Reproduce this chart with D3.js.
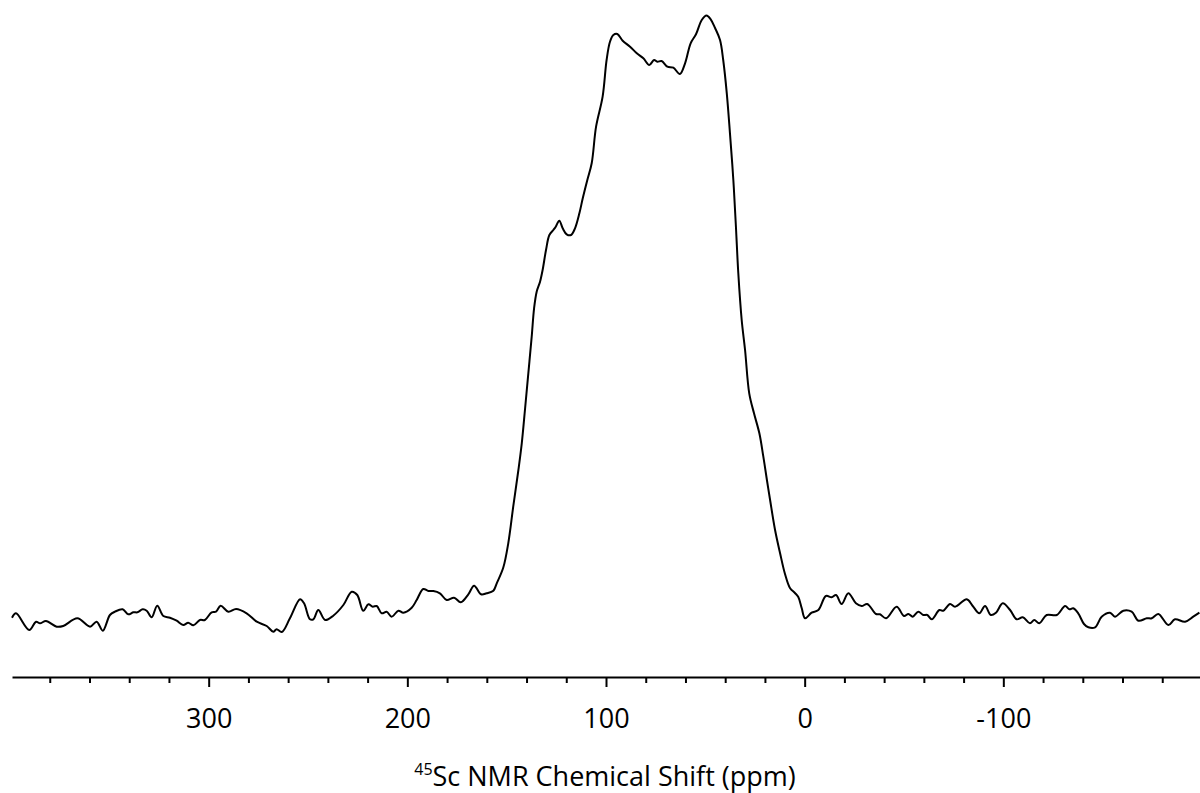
<!DOCTYPE html>
<html>
<head>
<meta charset="utf-8">
<script src="https://cdn.jsdelivr.net/npm/d3@7"></script>
<style>
  body { margin: 0; background: #fff; }
  svg { display: block; }
  text { font-family: "Open Sans", "Noto Sans", sans-serif; fill: #000; }
</style>
</head>
<body>
<div id="chart"></div>
<script>
// Chemical shift (ppm) of each traced point, high to low
const shift = [
  399.0, 397.0, 390.3, 386.9, 384.9, 381.9, 376.5, 373.2, 366.1, 359.7,
  356.4, 353.3, 349.7, 347.2, 343.3, 340.5, 337.9, 335.9, 333.2, 331.2,
  328.7, 325.9, 322.8, 319.5, 316.1, 312.8, 310.3, 307.7, 304.4, 301.9,
  298.5, 296.3, 294.0, 290.1, 286.2, 280.9, 275.8, 270.8, 267.5, 265.8,
  263.2, 259.1, 254.0, 252.0, 249.0, 247.3, 244.8, 241.4, 237.3, 232.2,
  228.0, 225.2, 222.2, 219.6, 217.4, 215.4, 212.9, 210.4, 207.9, 204.5,
  202.0, 197.8, 195.3, 192.0, 189.4, 186.9, 183.6, 180.2, 176.5, 173.1,
  169.3, 166.4, 162.9, 160.1, 156.7, 155.0, 151.7, 149.2, 146.7, 144.1,
  142.4, 140.8, 139.1, 137.4, 136.2, 134.9, 133.2, 131.9, 130.2, 128.5,
  126.5, 125.3, 123.5, 121.8, 119.8, 117.6, 115.6, 113.4, 111.7, 109.4,
  107.2, 105.0, 101.7, 99.7, 98.0, 96.3, 94.3, 91.6, 87.9, 84.5,
  81.2, 78.2, 75.8, 74.2, 72.0, 69.1, 66.1, 62.8, 60.2, 57.4,
  54.7, 51.8, 49.4, 47.3, 45.1, 42.6, 41.0, 39.2, 37.6, 35.9,
  34.6, 33.4, 31.7, 30.0, 27.9, 25.5, 22.8, 20.8, 19.0, 17.4,
  14.9, 12.4, 9.9, 7.4, 4.9, 3.2, 1.5, -0.2, -3.5, -6.9,
  -10.7, -13.6, -15.8, -18.6, -22.0, -25.8, -28.7, -31.5, -35.9, -37.9,
  -41.0, -46.3, -50.0, -52.2, -54.4, -57.2, -59.7, -61.7, -64.0, -67.8,
  -69.8, -73.2, -75.7, -81.6, -84.6, -87.9, -90.8, -93.7, -96.3, -99.7,
  -103.4, -106.7, -109.8, -113.4, -115.6, -118.1, -121.8, -126.9, -131.1, -133.2,
  -135.2, -137.7, -140.6, -142.8, -146.2, -149.5, -153.7, -156.2, -160.4, -164.6,
  -168.0, -172.2, -174.7, -178.0, -183.1, -186.4, -191.5, -195.6, -198.7
];

// Signal intensity (arbitrary units) at each shift
const intensity = [
  22.3, 26.7, 10, 18.3, 16.7, 19, 13.3, 14, 21.7, 13.3,
  18.3, 9.3, 25, 28.3, 30.7, 25.7, 27.7, 27.7, 30.7, 29.3,
  22.7, 34.3, 24, 22.3, 19.3, 15, 17.3, 14.7, 20, 20,
  27.7, 28.3, 34.3, 28.3, 31, 26.7, 18.3, 14, 8.3, 10.7,
  8, 21.7, 40.7, 36.7, 20.7, 20.7, 30, 20, 24.3, 35,
  48.3, 45, 29.3, 35.7, 33.3, 34, 26.7, 28.3, 23.3, 29.3,
  27.3, 32.3, 40, 51, 49, 49, 46.7, 40, 42.3, 37.7,
  45.7, 54.3, 45.7, 46.7, 49.3, 56.7, 72.5, 96.7, 133.3, 170,
  196.7, 230, 266.7, 303.3, 331.7, 348.3, 358.3, 370, 390, 405,
  410, 413.3, 419.3, 411.7, 405.7, 405, 411.7, 426.7, 441.7, 460,
  476.7, 513.3, 543.3, 580, 598.3, 605, 606, 599.3, 593.3, 586.7,
  581.7, 575, 580, 578.3, 579, 573.3, 572.3, 566, 576.7, 596.7,
  605.7, 620, 624.5, 620.7, 612, 600, 580, 546.7, 506.7, 460,
  413.3, 366.7, 320, 290, 246.7, 226.7, 206.7, 183.3, 160, 140,
  110, 87, 66, 52, 47, 43, 32, 21.7, 27.3, 30,
  44, 42.7, 45, 36, 46.7, 36.7, 34, 36, 26, 25.7,
  21.7, 33.3, 24, 26, 23.3, 28.3, 25, 25, 20.7, 30,
  29.3, 36, 33.3, 40.7, 34, 26.7, 34, 25, 27.3, 36.7,
  30, 20.7, 22.7, 16.7, 20, 16.7, 25, 25, 34, 30.7,
  31.7, 26.7, 16, 12.7, 12.7, 23.3, 27.3, 23.3, 29.3, 28.3,
  19.3, 21.7, 21.7, 26, 15, 20.7, 18.3, 23.3, 27.3
];

const majorTicks = [300, 200, 100, 0, -100];
const minorTicks = [380, 360, 340, 320, 280, 260, 240, 220, 180, 160, 140, 120,
                    80, 60, 40, 20, -20, -40, -60, -80, -120, -140, -160, -180];

const width = 1200, height = 793;
const axisY = 677;

const svg = d3.select("#chart")
    .append("svg")
    .attr("width", width)
    .attr("height", height);

// ppm axis runs right to left, as usual for NMR
const x = d3.scaleLinear()
    .domain([399, -199])
    .range([12, 1200]);

const y = d3.scaleLinear()
    .domain([0, 624.5])
    .range([640, 15.5]);

const points = shift.map((s, i) => ({ppm: s, val: intensity[i]}));

const line = d3.line()
    .x(d => x(d.ppm))
    .y(d => y(d.val))
    .curve(d3.curveCatmullRom.alpha(0.5));

svg.append("path")
    .datum(points)
    .attr("fill", "none")
    .attr("stroke", "#000")
    .attr("stroke-width", 2)
    .attr("stroke-linejoin", "round")
    .attr("d", line);

// minor ticks
svg.append("g")
    .attr("transform", `translate(0,${axisY})`)
    .call(d3.axisBottom(x).tickValues(minorTicks).tickSize(6).tickSizeOuter(0).tickFormat(""))
    .call(g => g.select(".domain").remove())
    .call(g => g.selectAll(".tick line").attr("stroke", "#000").attr("stroke-width", 2));

// major ticks + axis line
svg.append("g")
    .attr("transform", `translate(0,${axisY})`)
    .call(d3.axisBottom(x).tickValues(majorTicks).tickSize(10).tickSizeOuter(0)
        .tickPadding(22).tickFormat(d => String(d)))
    .call(g => g.select(".domain").attr("stroke", "#000").attr("stroke-width", 2))
    .call(g => g.selectAll(".tick line").attr("stroke", "#000").attr("stroke-width", 2))
    .call(g => g.selectAll(".tick text")
        .attr("font-family", "'Open Sans', 'Noto Sans', sans-serif")
        .attr("font-size", 27)
        .attr("fill", "#000"));

// axis title
const title = svg.append("text")
    .attr("x", 605)
    .attr("y", 786)
    .attr("text-anchor", "middle")
    .style("font-size", "27px");

title.append("tspan")
    .attr("font-size", 16)
    .attr("dy", -11)
    .text("45");

title.append("tspan")
    .attr("dy", 11)
    .text("Sc NMR Chemical Shift (ppm)");
</script>
</body>
</html>
